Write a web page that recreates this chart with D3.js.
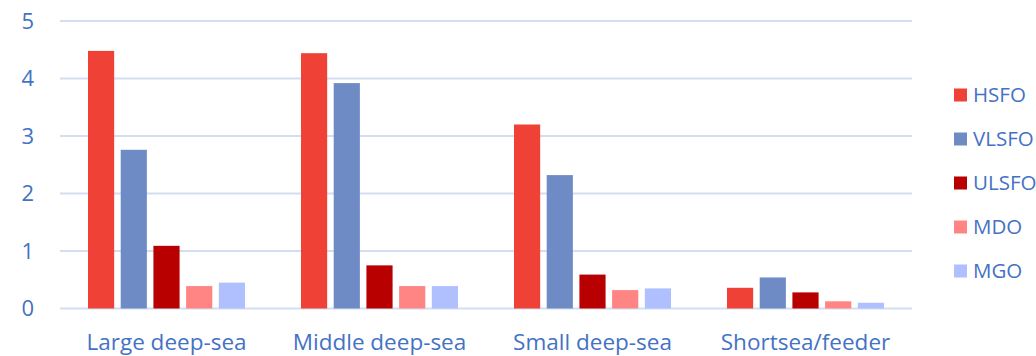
<!DOCTYPE html>
<html>
<head>
<meta charset="utf-8">
<script src="https://cdn.jsdelivr.net/npm/d3@7"></script>
<style>
  html, body { margin: 0; padding: 0; background: #ffffff; }
  svg { display: block; }
  text { font-family: "Open Sans", "Noto Sans", sans-serif; fill: #4472C4; }
</style>
</head>
<body>
<svg id="chart" width="1036" height="356"></svg>
<script>
// Vessel segments along the x axis
const categories = ["Large deep-sea", "Middle deep-sea", "Small deep-sea", "Shortsea/feeder"];

// Fuel types (one bar each per segment)
const fuels = ["HSFO", "VLSFO", "ULSFO", "MDO", "MGO"];

// Values per fuel, in category order
const hsfo  = [4.48, 4.44, 3.20, 0.36];
const vlsfo = [2.76, 3.92, 2.32, 0.54];
const ulsfo = [1.09, 0.75, 0.59, 0.28];
const mdo   = [0.39, 0.39, 0.32, 0.125];
const mgo   = [0.45, 0.39, 0.35, 0.10];

const yTicks = [0, 1, 2, 3, 4, 5];

const colors = ["#EF4136", "#6E8BC6", "#B80000", "#FF8585", "#B0C0FF"];

const seriesValues = [hsfo, vlsfo, ulsfo, mdo, mgo];
const rows = categories.map((c, i) => ({
  category: c,
  values: fuels.map((f, j) => ({ fuel: f, value: seriesValues[j][i] }))
}));

const svg = d3.select("#chart");
const margin = { left: 60, right: 124, top: 21, bottom: 47.5 };
const width = 1036, height = 356;

const x0 = d3.scaleBand()
  .domain(categories)
  .range([margin.left, width - margin.right])
  .paddingInner(0)
  .paddingOuter(0);

const x1 = d3.scaleBand()
  .domain(fuels)
  .range([28, x0.bandwidth() - 28])
  .paddingInner(0.2)
  .paddingOuter(0);

const y = d3.scaleLinear()
  .domain([0, 5])
  .range([height - margin.bottom, margin.top]);

const color = d3.scaleOrdinal().domain(fuels).range(colors);

// Horizontal gridlines
svg.append("g")
  .selectAll("line")
  .data(yTicks)
  .join("line")
  .attr("x1", margin.left)
  .attr("x2", width - margin.right)
  .attr("y1", d => y(d))
  .attr("y2", d => y(d))
  .attr("stroke", "#D3DEF1")
  .attr("stroke-width", 2);

// Y axis labels
const yAxis = d3.axisLeft(y).tickValues(yTicks).tickSize(0).tickPadding(0).tickFormat(d3.format("d"));
const gy = svg.append("g")
  .attr("transform", `translate(${margin.left - 26},0)`)
  .call(yAxis);
gy.select(".domain").remove();
gy.selectAll("text")
  .style("font-size", "22px")
  .attr("fill", "#4472C4");

// Bars
svg.append("g")
  .selectAll("g")
  .data(rows)
  .join("g")
  .attr("transform", d => `translate(${x0(d.category)},0)`)
  .selectAll("rect")
  .data(d => d.values)
  .join("rect")
  .attr("x", d => x1(d.fuel))
  .attr("width", x1.bandwidth())
  .attr("y", d => y(d.value))
  .attr("height", d => y(0) - y(d.value))
  .attr("fill", d => color(d.fuel));

// X axis labels
const xAxis = d3.axisBottom(x0).tickSize(0).tickPadding(0);
const gx = svg.append("g")
  .attr("transform", `translate(0,${y(0) + 26})`)
  .call(xAxis);
gx.select(".domain").remove();
gx.selectAll("text")
  .style("font-size", "22.5px")
  .attr("fill", "#4472C4");

// Legend
const legend = svg.append("g")
  .selectAll("g")
  .data(fuels)
  .join("g")
  .attr("transform", (d, i) => `translate(954,${95 + i * 44})`);

legend.append("rect")
  .attr("x", 0)
  .attr("y", -6.5)
  .attr("width", 13)
  .attr("height", 13)
  .attr("fill", d => color(d));

legend.append("text")
  .attr("x", 19)
  .attr("y", 0)
  .attr("dy", "0.35em")
  .style("font-size", "20.5px")
  .text(d => d);
</script>
</body>
</html>
